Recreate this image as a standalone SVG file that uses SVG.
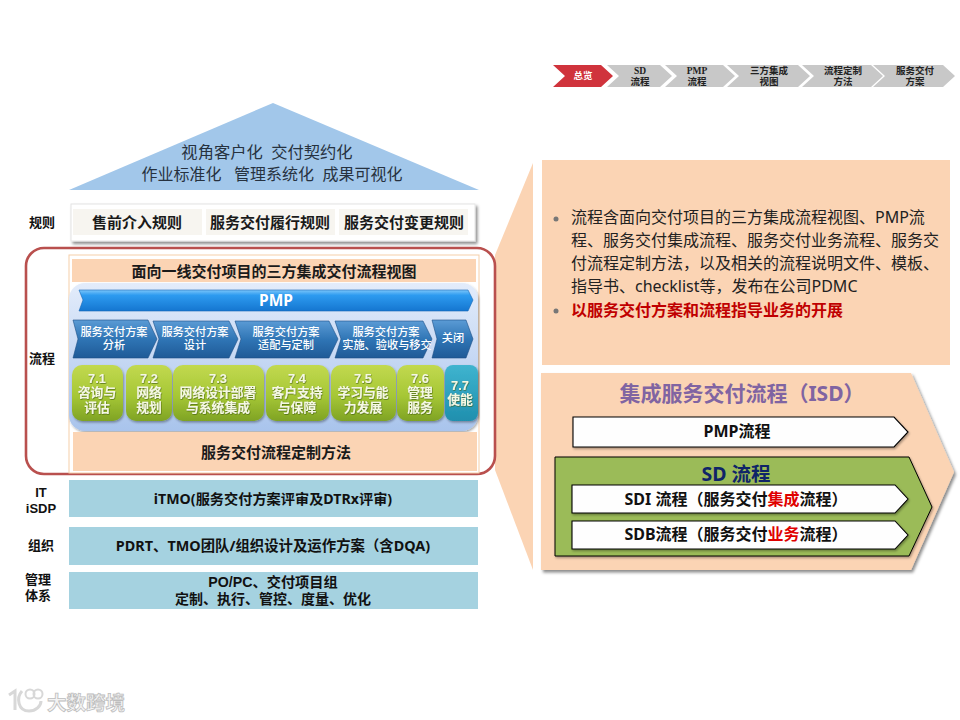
<svg xmlns="http://www.w3.org/2000/svg" width="960" height="720" viewBox="0 0 960 720">
<style>
text{font-family:"Noto Sans","Noto Sans CJK SC",sans-serif;text-anchor:middle;dominant-baseline:central;fill:#111}
.b{font-weight:700}
.nav{font-family:"Liberation Serif","Noto Sans CJK SC",serif;font-size:9.5px;font-weight:700;fill:#222}
.lab{font-family:"Liberation Sans","Noto Sans CJK SC",sans-serif;font-size:13px;font-weight:700}
.cell{fill:#f7f5f0}
.peach{fill:#fbd4b4}
.bar{fill:#a5d2e0}
.bt{font-size:15px;font-weight:700;fill:#1a1a1a}
.ch{fill:url(#gb);stroke:#1d4f86;stroke-width:.6}
.cht{font-family:"Liberation Sans","Noto Sans CJK SC",sans-serif;font-size:11.2px;fill:#fff;font-weight:500}
.gr{fill:url(#gg)}
.grt{font-family:"Liberation Sans","Noto Sans CJK SC",sans-serif;font-size:12.8px;font-weight:700;fill:#f5f8e2}
.wa{fill:#fefefe;stroke:#000;stroke-width:1.1}
.wt{font-size:16px;font-weight:700}
.body{font-size:16px;text-anchor:start;fill:#222}
</style>
<defs>
<linearGradient id="gb" x1="0" y1="0" x2="0" y2="1"><stop offset="0" stop-color="#5b9bd5"/><stop offset=".5" stop-color="#2f75b5"/><stop offset="1" stop-color="#1f5a97"/></linearGradient>
<linearGradient id="gp" x1="0" y1="0" x2="0" y2="1"><stop offset="0" stop-color="#7cc6fa"/><stop offset=".25" stop-color="#2d9bf0"/><stop offset="1" stop-color="#1576d0"/></linearGradient>
<linearGradient id="gg" x1="0" y1="0" x2="0" y2="1"><stop offset="0" stop-color="#c2d94f"/><stop offset=".55" stop-color="#a6c736"/><stop offset="1" stop-color="#7fa324"/></linearGradient>
<linearGradient id="gt" x1="0" y1="0" x2="0" y2="1"><stop offset="0" stop-color="#3fb4cf"/><stop offset="1" stop-color="#1f8fae"/></linearGradient>
<linearGradient id="gl" x1="0" y1="0" x2="0" y2="1"><stop offset="0" stop-color="#e3ecfb"/><stop offset="1" stop-color="#a9c4ec"/></linearGradient>
<filter id="sh" x="-5%" y="-10%" width="112%" height="125%"><feDropShadow dx="2" dy="2.5" stdDeviation="1.6" flood-color="#000" flood-opacity=".45"/></filter>
<filter id="sm" x="-5%" y="-10%" width="110%" height="125%"><feDropShadow dx="1" dy="1.5" stdDeviation="1" flood-color="#000" flood-opacity=".35"/></filter>
<filter id="ts" x="-5%" y="-10%" width="110%" height="120%"><feDropShadow dx=".5" dy=".7" stdDeviation=".35" flood-color="#3d5a10" flood-opacity=".85"/></filter>
</defs>

<g id="nav">
<polygon points="553,65 601,65 613,76 601,87 553,87 565,76" fill="#d0333c"/>
<polygon points="607,65 660,65 672,76 660,87 607,87 619,76" fill="#c8c8c8"/>
<polygon points="665,65 723,65 735,76 723,87 665,87 677,76" fill="#c8c8c8"/>
<polygon points="727,65 798,65 810,76 798,87 727,87 739,76" fill="#c8c8c8"/>
<polygon points="802,65 871,65 883,76 871,87 802,87 814,76" fill="#c8c8c8"/>
<polygon points="873,65 943,65 955,76 943,87 873,87 885,76" fill="#c8c8c8"/>
<text class="nav" x="583" y="76" style="fill:#fff">总览</text>
<text class="nav" x="640" y="70.5">SD</text><text class="nav" x="640" y="82">流程</text>
<text class="nav" x="697" y="70.5">PMP</text><text class="nav" x="697" y="82">流程</text>
<text class="nav" x="769" y="70.5">三方集成</text><text class="nav" x="769" y="82">视图</text>
<text class="nav" x="843" y="70.5">流程定制</text><text class="nav" x="843" y="82">方法</text>
<text class="nav" x="915" y="70.5">服务交付</text><text class="nav" x="915" y="82">方案</text>
</g>

<g id="roof">
<polygon points="273,103 479,190 69,190" fill="#a2c7ea"/>
<text x="267" y="152" font-size="16.3" style="fill:#27323f" xml:space="preserve">视角客户化  交付契约化</text>
<text x="272" y="174" font-size="16" style="fill:#27323f" xml:space="preserve">作业标准化   管理系统化  成果可视化</text>
</g>

<g id="rules">
<text class="lab" x="42" y="222">规则</text>
<rect x="71" y="204" width="404" height="37" fill="#fff" stroke="#e4e4e4" filter="url(#sh)"/>
<rect class="cell" x="73" y="209" width="129" height="26"/>
<rect class="cell" x="206" y="209" width="129" height="26"/>
<rect class="cell" x="339" y="209" width="129" height="26"/>
<text class="bt" x="137" y="222">售前介入规则</text>
<text class="bt" x="270" y="222">服务交付履行规则</text>
<text class="bt" x="404" y="222">服务交付变更规则</text>
</g>

<g id="callout-wedge"><polygon points="533,163 495,255 495,470 533,570" class="peach"/></g>

<g id="process">
<rect x="26" y="248" width="469" height="226" rx="18" fill="#fff" stroke="#b9504e" stroke-width="2.6"/>
<text class="lab" x="42" y="358">流程</text>
<rect x="69" y="255" width="410" height="218" fill="#fff" stroke="#f6cfa9"/>
<rect class="peach" x="72" y="259" width="404" height="23"/>
<text class="bt" x="274" y="271">面向一线交付项目的三方集成交付流程视图</text>
<rect x="69" y="283" width="409" height="148" rx="16" fill="url(#gl)" filter="url(#sm)"/>
<polygon points="79,290 468,290 473,300 468,311 79,311 83,300" fill="url(#gp)" stroke="#1667b5" stroke-width=".6"/>
<text x="276" y="300" font-size="15.5" class="b" style="fill:#fff">PMP</text>
<g id="phases">
<polygon class="ch" points="73,320 148,320 157,339 148,358 73,358 78,339"/>
<polygon class="ch" points="153,321 229,321 238,339 229,358 153,358 159,339"/>
<polygon class="ch" points="235,321 329,321 338,339 329,358 235,358 241,339"/>
<polygon class="ch" points="335,321 423,321 432,339 423,358 335,358 341,339"/>
<polygon class="ch" points="432,320 466,320 473,339 466,358 432,358 437,339"/>
<text class="cht" x="114" y="331.5">服务交付方案</text><text class="cht" x="114" y="345">分析</text>
<text class="cht" x="195" y="331.5">服务交付方案</text><text class="cht" x="195" y="345">设计</text>
<text class="cht" x="286" y="331.5">服务交付方案</text><text class="cht" x="286" y="345">适配与定制</text>
<text class="cht" x="386" y="331.5">服务交付方案</text><text class="cht" x="387" y="345">实施、验收与移交</text>
<text class="cht" x="453" y="338">关闭</text>
</g>
<g id="areas">
<rect class="gr" x="72" y="365" width="51" height="56" rx="10" filter="url(#sm)"/>
<rect class="gr" x="126" y="365" width="46" height="56" rx="10" filter="url(#sm)"/>
<rect class="gr" x="173" y="365" width="91" height="56" rx="10" filter="url(#sm)"/>
<rect class="gr" x="266" y="365" width="63" height="56" rx="10" filter="url(#sm)"/>
<rect class="gr" x="331" y="365" width="65" height="56" rx="10" filter="url(#sm)"/>
<rect class="gr" x="397" y="365" width="47" height="56" rx="10" filter="url(#sm)"/>
<rect x="445" y="365" width="33" height="56" rx="8" fill="url(#gt)" filter="url(#sm)"/>
<g filter="url(#ts)">
<text class="grt" x="97" y="378">7.1</text><text class="grt" x="97" y="392.5">咨询与</text><text class="grt" x="97" y="407">评估</text>
<text class="grt" x="149" y="378">7.2</text><text class="grt" x="149" y="392.5">网络</text><text class="grt" x="149" y="407">规划</text>
<text class="grt" x="218" y="378">7.3</text><text class="grt" x="218" y="392.5">网络设计部署</text><text class="grt" x="218" y="407">与系统集成</text>
<text class="grt" x="297" y="378">7.4</text><text class="grt" x="297" y="392.5">客户支持</text><text class="grt" x="297" y="407">与保障</text>
<text class="grt" x="363" y="378">7.5</text><text class="grt" x="363" y="392.5">学习与能</text><text class="grt" x="363" y="407">力发展</text>
<text class="grt" x="420" y="378">7.6</text><text class="grt" x="420" y="392.5">管理</text><text class="grt" x="420" y="407">服务</text>
<text class="grt" x="460" y="385">7.7</text><text class="grt" x="460" y="399">使能</text>
</g>
</g>
<rect class="peach" x="73" y="432" width="404" height="39"/>
<text class="bt" x="276" y="452">服务交付流程定制方法</text>
</g>

<g id="support">
<text class="lab" x="41" y="492">IT</text><text class="lab" x="41" y="508">iSDP</text>
<rect class="bar" x="69" y="480" width="409" height="37"/>
<text x="273" y="498" font-size="14.2" class="b">iTMO(服务交付方案评审及DTRx评审)</text>
<text class="lab" x="41" y="545">组织</text>
<rect class="bar" x="69" y="527" width="409" height="38"/>
<text x="273" y="545" font-size="14.4" class="b">PDRT、TMO团队/组织设计及运作方案（含DQA)</text>
<text class="lab" x="38" y="579">管理</text><text class="lab" x="38" y="595">体系</text>
<rect class="bar" x="69" y="572" width="409" height="37"/>
<text x="273" y="582" font-size="14.2" class="b" style="font-family:'Liberation Sans','Noto Sans CJK SC',sans-serif">PO/PC、交付项目组</text>
<text x="273" y="599" font-size="14" class="b" style="font-family:'Liberation Sans','Noto Sans CJK SC',sans-serif">定制、执行、管控、度量、优化</text>
</g>

<g id="summary">
<rect class="peach" x="542" y="160" width="408" height="205"/>
<circle cx="556" cy="219" r="2.5" fill="#777"/>
<circle cx="556" cy="311" r="2.5" fill="#777"/>
<text class="body" x="571" y="217">流程含面向交付项目的三方集成流程视图、PMP流</text>
<text class="body" x="571" y="240">程、服务交付集成流程、服务交付业务流程、服务交</text>
<text class="body" x="571" y="263">付流程定制方法，以及相关的流程说明文件、模板、</text>
<text class="body" x="571" y="286">指导书、checklist等，发布在公司PDMC</text>
<text class="body b" x="571" y="310" style="fill:#c00000">以服务交付方案和流程指导业务的开展</text>
</g>

<g id="isd">
<polygon points="541,373 911,373 954,472 911,570 541,570" class="peach" filter="url(#sh)"/>
<text x="742" y="393" font-size="21" class="b" style="fill:#8064a2">集成服务交付流程（ISD）</text>
<g id="isd-pmp">
<polygon class="wa" points="573,417 894,417 908,432 894,447 573,447" filter="url(#sm)"/>
<text class="wt" x="737" y="431">PMP流程</text>
</g>
<g id="isd-sd">
<polygon points="555,457 909,457 932,507 909,556 555,556" fill="#9bbb59" stroke="#000" filter="url(#sm)"/>
<text x="736" y="473" font-size="19.5" class="b" style="fill:#0f2468">SD 流程</text>
<polygon class="wa" points="572,485 895,485 908,499 895,513 572,513" filter="url(#sm)"/>
<text class="wt" x="736" y="499">SDI 流程（服务交付<tspan style="fill:#e00000">集成</tspan>流程）</text>
<polygon class="wa" points="572,521 895,521 908,535 895,549 572,549" filter="url(#sm)"/>
<text class="wt" x="736" y="534">SDB流程（服务交付<tspan style="fill:#e00000">业务</tspan>流程）</text>
</g>
</g>

<g id="watermark">
<path d="M9,695 L15,691 L15,710 M22,691 C16,698 18,711 29,711 C36,711 41,706 41,701" fill="none" stroke="#d8d8d8" stroke-width="3"/>
<circle cx="30" cy="694" r="4.5" fill="none" stroke="#d8d8d8" stroke-width="2"/>
<circle cx="38" cy="694" r="4.5" fill="none" stroke="#d8d8d8" stroke-width="2"/>
<text x="86" y="702" font-size="19.5" class="b" style="fill:#f4f4f4;stroke:#bdbdbd;stroke-width:.8">大数跨境</text>
</g>
</svg>
